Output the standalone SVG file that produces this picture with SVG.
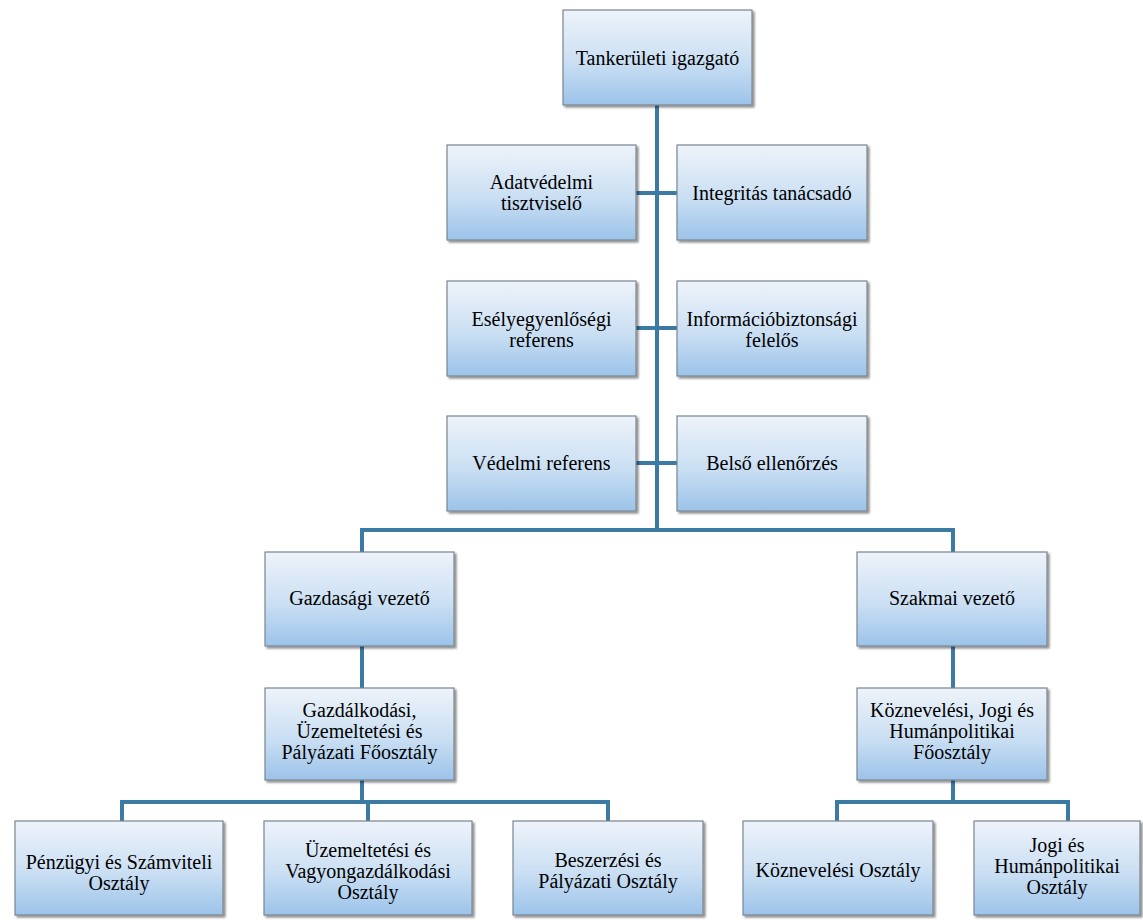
<svg xmlns="http://www.w3.org/2000/svg" width="1143" height="920" viewBox="0 0 1143 920">
<defs>
<linearGradient id="g" x1="0" y1="0" x2="0" y2="1">
<stop offset="0" stop-color="#eef3fa"/>
<stop offset="0.55" stop-color="#cadff3"/>
<stop offset="1" stop-color="#9cc3ea"/>
</linearGradient>
<filter id="sh" x="-5%" y="-5%" width="115%" height="120%">
<feGaussianBlur in="SourceAlpha" stdDeviation="1.2"/>
<feOffset dx="1.5" dy="2" result="b"/>
<feComponentTransfer><feFuncA type="linear" slope="0.45"/></feComponentTransfer>
<feMerge><feMergeNode/><feMergeNode in="SourceGraphic"/></feMerge>
</filter>
</defs>
<style>
.box{fill:url(#g);stroke:#7a8590;stroke-width:1.2;filter:url(#sh)}
.c{stroke:#3b7aa3;stroke-width:4;fill:none}
</style>
<rect width="1143" height="920" fill="#ffffff"/>
<g id="connectors">
<path class="c" d="M657,105 V530"/>
<path class="c" d="M636,193 H677"/>
<path class="c" d="M636,328 H677"/>
<path class="c" d="M636,463 H677"/>
<path class="c" d="M362,552 V530 H953 V552"/>
<path class="c" d="M362,646 V688"/>
<path class="c" d="M953,646 V688"/>
<path class="c" d="M362,780 V802"/>
<path class="c" d="M122,821 V802 H608 V821"/>
<path class="c" d="M368,802 V821"/>
<path class="c" d="M953,780 V802"/>
<path class="c" d="M837,821 V802 H1068 V821"/>
</g>
<g id="n-top"><rect class="box" x="563" y="10" width="189" height="95"/><text font-family="Liberation Serif" font-size="20" text-anchor="middle" x="657.5" y="65">Tankerületi igazgató</text></g>
<g id="n-adat"><rect class="box" x="447" y="145" width="189" height="95"/><text font-family="Liberation Serif" font-size="20" text-anchor="middle" x="541.5" y="189">Adatvédelmi</text><text font-family="Liberation Serif" font-size="20" text-anchor="middle" x="541.5" y="210">tisztviselő</text></g>
<g id="n-integ"><rect class="box" x="677" y="145" width="190" height="95"/><text font-family="Liberation Serif" font-size="20" text-anchor="middle" x="772" y="200">Integritás tanácsadó</text></g>
<g id="n-esely"><rect class="box" x="447" y="281" width="189" height="95"/><text font-family="Liberation Serif" font-size="20" text-anchor="middle" x="541.5" y="326">Esélyegyenlőségi</text><text font-family="Liberation Serif" font-size="20" text-anchor="middle" x="541.5" y="347">referens</text></g>
<g id="n-info"><rect class="box" x="677" y="281" width="190" height="95"/><text font-family="Liberation Serif" font-size="20" text-anchor="middle" x="772" y="326">Információbiztonsági</text><text font-family="Liberation Serif" font-size="20" text-anchor="middle" x="772" y="347">felelős</text></g>
<g id="n-vedelmi"><rect class="box" x="447" y="416" width="189" height="95"/><text font-family="Liberation Serif" font-size="20" text-anchor="middle" x="541.5" y="470">Védelmi referens</text></g>
<g id="n-belso"><rect class="box" x="677" y="416" width="190" height="95"/><text font-family="Liberation Serif" font-size="20" text-anchor="middle" x="772" y="470">Belső ellenőrzés</text></g>
<g id="n-gazd"><rect class="box" x="265" y="552" width="189" height="94"/><text font-family="Liberation Serif" font-size="20" text-anchor="middle" x="359.5" y="605">Gazdasági vezető</text></g>
<g id="n-szak"><rect class="box" x="857" y="552" width="190" height="94"/><text font-family="Liberation Serif" font-size="20" text-anchor="middle" x="952" y="605">Szakmai vezető</text></g>
<g id="n-gfo"><rect class="box" x="265" y="688" width="189" height="92"/><text font-family="Liberation Serif" font-size="20" text-anchor="middle" x="359.5" y="717">Gazdálkodási,</text><text font-family="Liberation Serif" font-size="20" text-anchor="middle" x="359.5" y="738">Üzemeltetési és</text><text font-family="Liberation Serif" font-size="20" text-anchor="middle" x="359.5" y="759">Pályázati Főosztály</text></g>
<g id="n-kfo"><rect class="box" x="857" y="688" width="190" height="92"/><text font-family="Liberation Serif" font-size="20" text-anchor="middle" x="952" y="717">Köznevelési, Jogi és</text><text font-family="Liberation Serif" font-size="20" text-anchor="middle" x="952" y="738">Humánpolitikai</text><text font-family="Liberation Serif" font-size="20" text-anchor="middle" x="952" y="759">Főosztály</text></g>
<g id="n-penz"><rect class="box" x="15" y="821" width="208" height="94"/><text font-family="Liberation Serif" font-size="20" text-anchor="middle" x="119" y="869">Pénzügyi és Számviteli</text><text font-family="Liberation Serif" font-size="20" text-anchor="middle" x="119" y="890">Osztály</text></g>
<g id="n-uzem"><rect class="box" x="264" y="821" width="208" height="94"/><text font-family="Liberation Serif" font-size="20" text-anchor="middle" x="368" y="857">Üzemeltetési és</text><text font-family="Liberation Serif" font-size="20" text-anchor="middle" x="368" y="878">Vagyongazdálkodási</text><text font-family="Liberation Serif" font-size="20" text-anchor="middle" x="368" y="899">Osztály</text></g>
<g id="n-besz"><rect class="box" x="513" y="821" width="190" height="94"/><text font-family="Liberation Serif" font-size="20" text-anchor="middle" x="608" y="867">Beszerzési és</text><text font-family="Liberation Serif" font-size="20" text-anchor="middle" x="608" y="888">Pályázati Osztály</text></g>
<g id="n-kozn"><rect class="box" x="743" y="821" width="190" height="94"/><text font-family="Liberation Serif" font-size="20" text-anchor="middle" x="838" y="877">Köznevelési Osztály</text></g>
<g id="n-jogi"><rect class="box" x="974" y="821" width="166" height="94"/><text font-family="Liberation Serif" font-size="20" text-anchor="middle" x="1057" y="852">Jogi és</text><text font-family="Liberation Serif" font-size="20" text-anchor="middle" x="1057" y="873">Humánpolitikai</text><text font-family="Liberation Serif" font-size="20" text-anchor="middle" x="1057" y="894">Osztály</text></g>
</svg>
